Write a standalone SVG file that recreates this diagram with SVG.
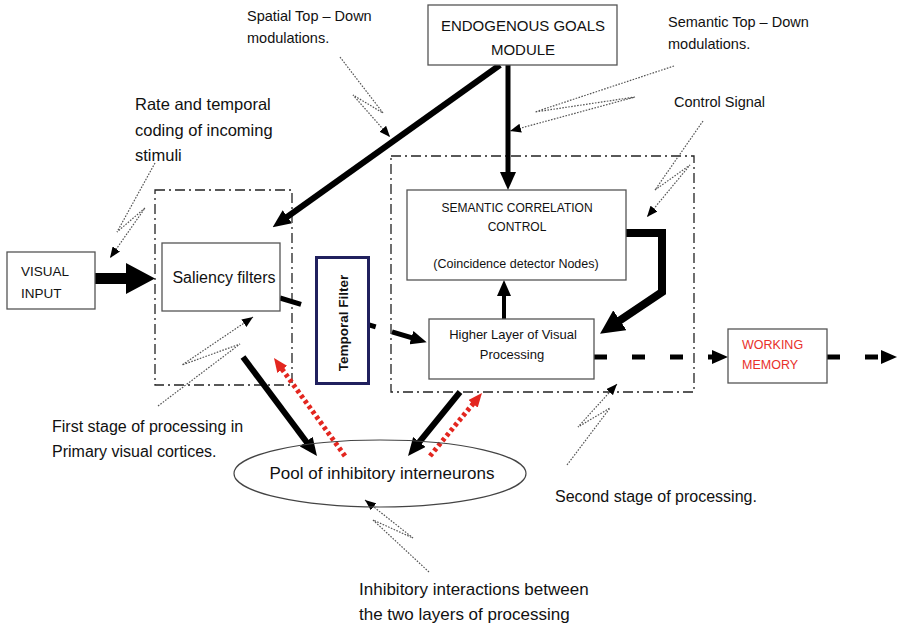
<svg xmlns="http://www.w3.org/2000/svg" width="897" height="628" viewBox="0 0 897 628">
<style>
text{font-family:"Liberation Sans",Arial,sans-serif;fill:#111}
.box{fill:#fff;stroke:#555;stroke-width:1.3}
.group{fill:none;stroke:#222;stroke-width:1.3;stroke-dasharray:10 4 2 4}
.lbl{font-size:16.5px}
.thick{fill:none;stroke:#000;stroke-linecap:butt;stroke-linejoin:miter}
.call{fill:none;stroke:#555;stroke-width:1.2;stroke-dasharray:1.6 1.4}
.red{fill:none;stroke:#e3261f;stroke-width:5;stroke-dasharray:3.5 3}
</style>
<defs>
<marker id="big" markerUnits="userSpaceOnUse" markerWidth="18" markerHeight="16" refX="9" refY="8" orient="auto" viewBox="0 0 18 16"><path d="M0,0 L18,8 L0,16 z" fill="#000"/></marker>
<marker id="huge" markerUnits="userSpaceOnUse" markerWidth="24" markerHeight="24" refX="12" refY="12" orient="auto" viewBox="0 0 24 24"><path d="M0,0 L24,12 L0,24 z" fill="#000"/></marker>
<marker id="mid" markerUnits="userSpaceOnUse" markerWidth="16" markerHeight="14" refX="8" refY="7" orient="auto" viewBox="0 0 16 14"><path d="M0,0 L16,7 L0,14 z" fill="#000"/></marker>
<marker id="small" markerUnits="userSpaceOnUse" markerWidth="11" markerHeight="9" refX="11" refY="4.5" orient="auto" viewBox="0 0 11 9"><path d="M0,0 L11,4.5 L0,9 z" fill="#000"/></marker>
<marker id="redh" markerUnits="userSpaceOnUse" markerWidth="14" markerHeight="12" refX="7" refY="6" orient="auto" viewBox="0 0 14 12"><path d="M0,0 L14,6 L0,12 z" fill="#e3261f"/></marker>
</defs>

<!-- processing stage groups -->
<g id="stage1"><rect class="group" x="155" y="190" width="137" height="195"/></g>
<g id="stage2"><rect class="group" x="391" y="156" width="303" height="236"/></g>

<!-- connectors -->
<g id="connectors">
  <!-- visual input block arrow -->
  <polygon points="95,273 126,273 126,263 155,278.5 126,294 126,284 95,284" fill="#000"/>
  <!-- endogenous to saliency -->
  <line class="thick" x1="500" y1="65" x2="280" y2="222" stroke-width="6" marker-end="url(#big)"/>
  <!-- endogenous to semantic -->
  <line class="thick" x1="508" y1="65" x2="508" y2="181" stroke-width="5" marker-end="url(#big)"/>
  <!-- higher to semantic -->
  <line class="thick" x1="504" y1="319" x2="504" y2="288" stroke-width="4" marker-end="url(#mid)"/>
  <!-- semantic control loop back -->
  <path class="thick" d="M626,233 H662 V292 L610,327" stroke-width="8" marker-end="url(#huge)"/>
  <!-- saliency through temporal filter to higher -->
  <line class="thick" x1="280" y1="298" x2="419" y2="340" stroke-width="5" stroke-dasharray="22 17" marker-end="url(#mid)"/>
  <!-- higher to working memory -->
  <line class="thick" x1="594" y1="357" x2="720" y2="357" stroke-width="5" stroke-dasharray="13 25" marker-end="url(#mid)"/>
  <!-- working memory out -->
  <line class="thick" x1="827" y1="357" x2="889" y2="357" stroke-width="5" stroke-dasharray="13 25" marker-end="url(#mid)"/>
  <!-- to inhibitory pool -->
  <line class="thick" x1="243" y1="357" x2="311.6" y2="448.8" stroke-width="6" marker-end="url(#big)"/>
  <line class="thick" x1="460" y1="392" x2="413.7" y2="449" stroke-width="6" marker-end="url(#big)"/>
  <!-- inhibitory feedback (red dotted) -->
  <line class="red" x1="345" y1="456" x2="278.1" y2="363.7" marker-end="url(#redh)"/>
  <line class="red" x1="430" y1="456" x2="477.5" y2="398.4" marker-end="url(#redh)"/>
  <!-- callouts -->
  <polyline class="call" points="340,57 383,113 353,95 390,137" marker-end="url(#small)"/>
  <polyline class="call" points="674,66 535,112 635,97 510,131" marker-end="url(#small)"/>
  <polyline class="call" points="703,121 655,190 690,165 647,217" marker-end="url(#small)"/>
  <polyline class="call" points="155,163 117,232 145,208 110,258" marker-end="url(#small)"/>
  <polyline class="call" points="158,406 240,344 182,365 253,317" marker-end="url(#small)"/>
  <polyline class="call" points="429,572 373,520 413,538 365,500" marker-end="url(#small)"/>
  <polyline class="call" points="567,465 610,408 578,427 617,384" marker-end="url(#small)"/>
</g>

<!-- nodes -->
<g id="endogenous">
  <rect class="box" x="428" y="5" width="189" height="60"/>
  <text x="523" y="31" font-size="15" text-anchor="middle">ENDOGENOUS GOALS</text>
  <text x="523" y="55" font-size="15" text-anchor="middle">MODULE</text>
</g>
<g id="visual-input">
  <rect class="box" x="7" y="252" width="88" height="57"/>
  <text x="21" y="276" font-size="13.5">VISUAL</text>
  <text x="21" y="298" font-size="13.5">INPUT</text>
</g>
<g id="saliency">
  <rect class="box" x="162" y="243" width="118" height="68"/>
  <text x="224" y="283" font-size="16" text-anchor="middle">Saliency filters</text>
</g>
<g id="temporal-filter">
  <rect x="316.5" y="257.5" width="52" height="126" fill="#fff" stroke="#20205e" stroke-width="3"/>
  <text transform="translate(348,323) rotate(-90)" font-size="13.5" font-weight="bold" text-anchor="middle">Temporal Filter</text>
</g>
<g id="semantic">
  <rect class="box" x="407" y="190" width="219" height="90"/>
  <text x="517" y="212" font-size="12" text-anchor="middle">SEMANTIC CORRELATION</text>
  <text x="517" y="231" font-size="12" text-anchor="middle">CONTROL</text>
  <text x="516" y="268" font-size="12.5" text-anchor="middle">(Coincidence detector Nodes)</text>
</g>
<g id="higher-layer">
  <rect class="box" x="429" y="319" width="165" height="60"/>
  <text x="513" y="339" font-size="13" text-anchor="middle">Higher Layer of Visual</text>
  <text x="512" y="359" font-size="13" text-anchor="middle">Processing</text>
</g>
<g id="working-memory">
  <rect class="box" x="728" y="329" width="99" height="54"/>
  <text x="742" y="349" font-size="12.5" style="fill:#e8302a">WORKING</text>
  <text x="742" y="369" font-size="12.5" style="fill:#e8302a">MEMORY</text>
</g>
<g id="inhibitory-pool">
  <ellipse cx="380" cy="473.5" rx="146" ry="33.5" fill="none" stroke="#444" stroke-width="1.2"/>
  <text x="382" y="479" font-size="17" text-anchor="middle">Pool of inhibitory interneurons</text>
</g>

<!-- annotation labels -->
<g id="labels">
  <text x="247" y="21" font-size="14.5">Spatial Top – Down</text>
  <text x="247" y="43" font-size="14.5">modulations.</text>
  <text x="668" y="27" font-size="14.5">Semantic Top – Down</text>
  <text x="668" y="49" font-size="14.5">modulations.</text>
  <text x="674" y="107" font-size="14.5">Control Signal</text>
  <text x="135" y="110" class="lbl">Rate and temporal</text>
  <text x="135" y="136" class="lbl">coding of incoming</text>
  <text x="135" y="161" class="lbl">stimuli</text>
  <text x="52" y="432" font-size="16">First stage of processing in</text>
  <text x="52" y="457" font-size="16">Primary visual cortices.</text>
  <text x="555" y="502" font-size="16">Second stage of processing.</text>
  <text x="359" y="595" font-size="17">Inhibitory interactions between</text>
  <text x="359" y="620" font-size="17">the two layers of processing</text>
</g>
</svg>
